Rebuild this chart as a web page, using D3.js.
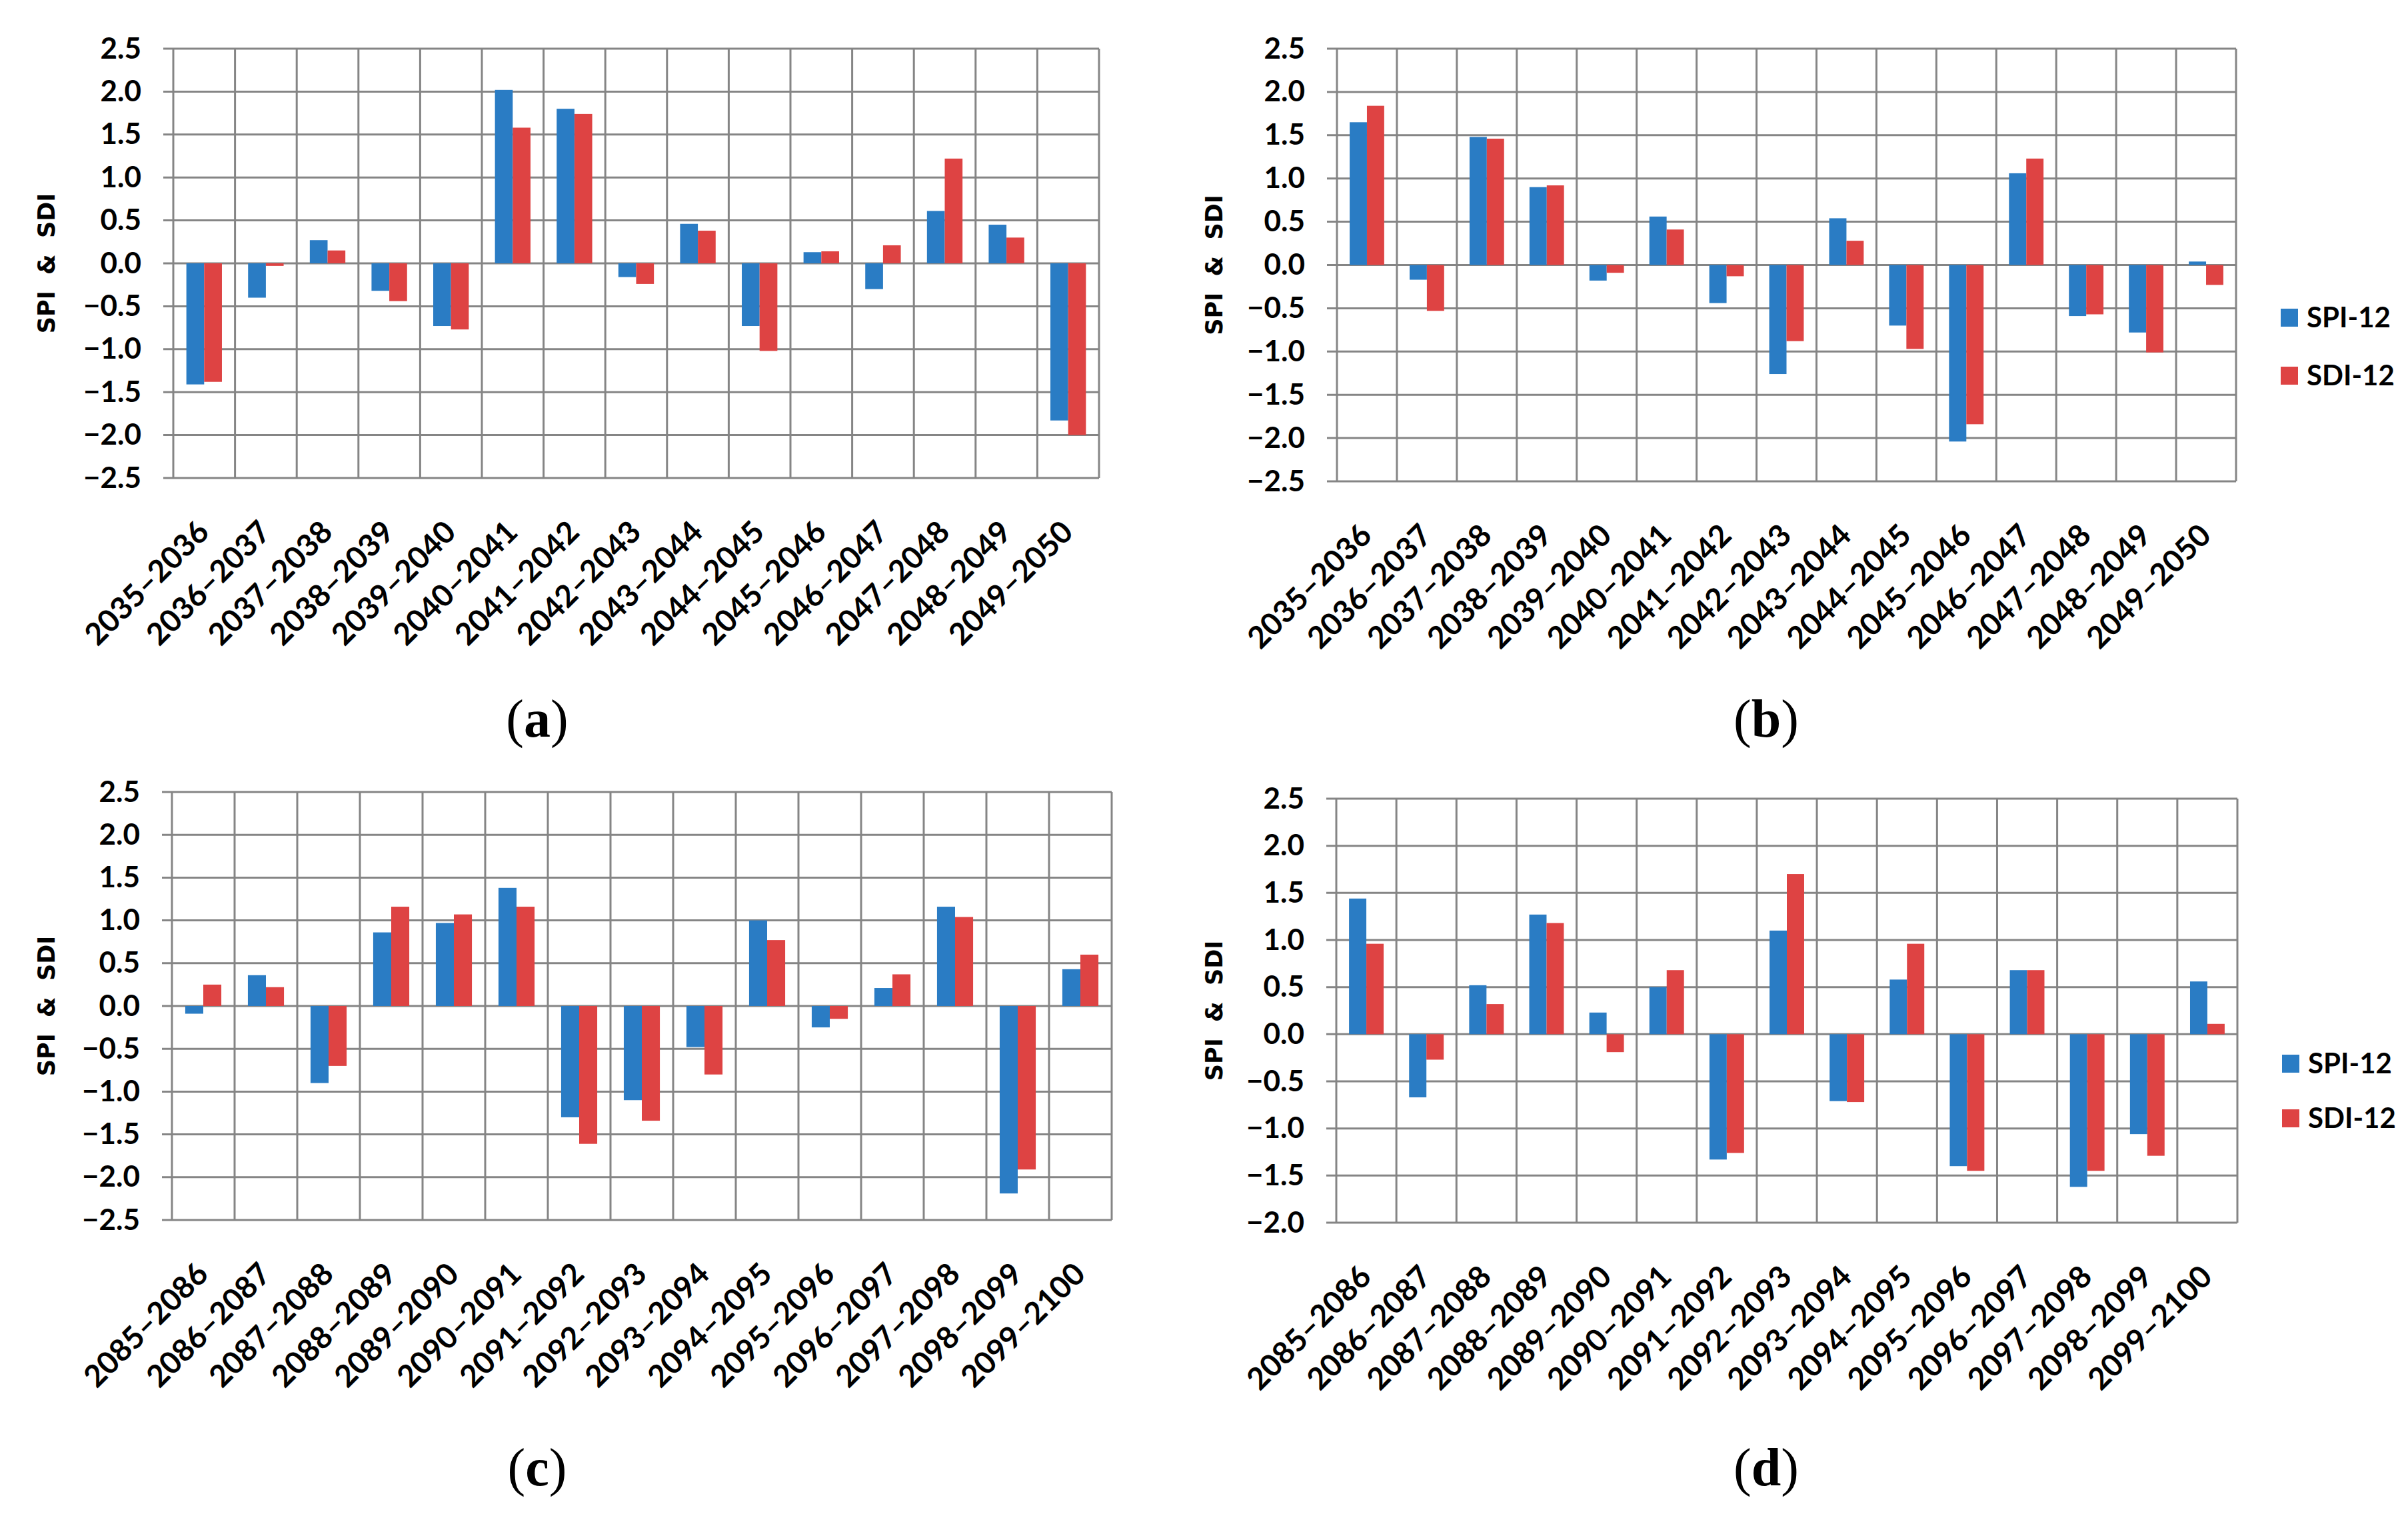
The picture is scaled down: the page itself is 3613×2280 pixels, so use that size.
<!DOCTYPE html>
<html>
<head>
<meta charset="utf-8">
<script src="https://cdn.jsdelivr.net/npm/d3@7"></script>
<style>
  body { margin: 0; background: #fff; }
  svg { display: block; }
</style>
</head>
<body>
<svg id="myGraph" width="3613" height="2280"></svg>
<script>
// categories
var catsTop = ["2035–2036","2036–2037","2037–2038","2038–2039","2039–2040","2040–2041","2041–2042","2042–2043","2043–2044","2044–2045","2045–2046","2046–2047","2047–2048","2048–2049","2049–2050"];
var catsBottom = ["2085–2086","2086–2087","2087–2088","2088–2089","2089–2090","2090–2091","2091–2092","2092–2093","2093–2094","2094–2095","2095–2096","2096–2097","2097–2098","2098–2099","2099–2100"];

// series values
var spiA = [-1.41,-0.40,0.27,-0.32,-0.73,2.02,1.80,-0.16,0.46,-0.73,0.13,-0.30,0.61,0.45,-1.83];
var sdiA = [-1.38,-0.03,0.15,-0.44,-0.77,1.58,1.74,-0.24,0.38,-1.02,0.14,0.21,1.22,0.30,-2.00];
var spiB = [1.65,-0.17,1.48,0.90,-0.18,0.56,-0.44,-1.26,0.54,-0.70,-2.04,1.06,-0.59,-0.78,0.04];
var sdiB = [1.84,-0.53,1.46,0.92,-0.09,0.41,-0.13,-0.88,0.28,-0.97,-1.84,1.23,-0.57,-1.01,-0.23];
var spiC = [-0.09,0.36,-0.90,0.86,0.97,1.38,-1.30,-1.10,-0.48,1.00,-0.25,0.21,1.16,-2.19,0.43];
var sdiC = [0.25,0.22,-0.70,1.16,1.07,1.16,-1.61,-1.34,-0.80,0.77,-0.15,0.37,1.04,-1.91,0.60];
var spiD = [1.44,-0.67,0.52,1.27,0.23,0.50,-1.33,1.10,-0.71,0.58,-1.40,0.68,-1.62,-1.06,0.56];
var sdiD = [0.96,-0.27,0.32,1.18,-0.19,0.68,-1.26,1.70,-0.72,0.96,-1.45,0.68,-1.45,-1.29,0.11];

// tick labels
var ticksFull = [2.5,2.0,1.5,1.0,0.5,0.0,-0.5,-1.0,-1.5,-2.0,-2.5];
var ticksD = [2.5,2.0,1.5,1.0,0.5,0.0,-0.5,-1.0,-1.5,-2.0];

var seriesNames = ["SPI-12","SDI-12"];
var colors = ["#2a7cc4","#de4343"];
var gridColor = "#858585";
var tickFont = "Lato, 'Open Sans', sans-serif";

var svg = d3.select("#myGraph");
svg.append("rect").attr("width",3613).attr("height",2280).attr("fill","#fff");

function drawPanel(opt){
    var g = svg.append("g");
    var x = d3.scaleBand().domain(opt.cats).range([opt.left, opt.right]).padding(0);
    var y = d3.scaleLinear().domain([d3.min(opt.ticks), d3.max(opt.ticks)]).range([opt.bottom, opt.top]);

    // horizontal grid
    g.selectAll("line.h").data(opt.ticks).enter().append("line")
        .attr("x1", opt.left - 15).attr("x2", opt.right)
        .attr("y1", function(d){ return y(d); }).attr("y2", function(d){ return y(d); })
        .attr("stroke", gridColor).attr("stroke-width", 3);

    // vertical grid at category borders
    var borders = opt.cats.map(function(c){ return x(c); }).concat([opt.right]);
    g.selectAll("line.v").data(borders).enter().append("line")
        .attr("x1", function(d){ return d; }).attr("x2", function(d){ return d; })
        .attr("y1", opt.top).attr("y2", opt.bottom)
        .attr("stroke", gridColor).attr("stroke-width", 3);

    // y axis labels
    var yAxis = d3.axisLeft(y).tickValues(opt.ticks).tickSize(15).tickPadding(33)
        .tickFormat(d3.format(".1f"));
    var ya = g.append("g").attr("transform", "translate(" + opt.left + ",0)").call(yAxis);
    ya.select(".domain").remove();
    ya.selectAll("line").remove();
    ya.selectAll("text").attr("font-family", tickFont).attr("font-size", 44)
        .attr("font-weight", "bold").attr("fill", "#000");

    // x axis labels
    var xAxis = d3.axisBottom(x).tickSize(0);
    var xa = g.append("g").attr("transform", "translate(0," + opt.bottom + ")").call(xAxis);
    xa.select(".domain").remove();
    xa.selectAll("text")
        .attr("x", 0).attr("y", 0).attr("dy", 0)
        .attr("transform", "translate(10,84) rotate(-45)")
        .attr("text-anchor", "end")
        .attr("font-family", tickFont).attr("font-size", 46)
        .attr("font-weight", "bold").attr("fill", "#000");

    // bars
    var bw = x.bandwidth() * 0.288;
    [opt.spi, opt.sdi].forEach(function(vals, s){
        g.selectAll("rect.s" + s).data(vals).enter().append("rect")
            .attr("x", function(d, i){ return x(opt.cats[i]) + x.bandwidth()/2 - bw + s*bw; })
            .attr("y", function(d){ return Math.min(y(d), y(0)); })
            .attr("width", bw)
            .attr("height", function(d){ return Math.abs(y(d) - y(0)); })
            .attr("fill", colors[s]);
    });

    // y title
    var cy = (opt.top + opt.bottom) / 2;
    g.append("text")
        .attr("transform", "translate(" + opt.titleX + "," + cy + ") rotate(-90)")
        .attr("text-anchor", "middle")
        .attr("font-family", "'DejaVu Sans', Verdana, sans-serif")
        .attr("font-weight", "bold").attr("font-size", 35)
        .attr("xml:space", "preserve")
        .style("white-space", "pre")
        .text("SPI  &  SDI");

    // legend
    if (opt.legend) {
        seriesNames.forEach(function(n, s){
            var ly = opt.legendY[s];
            g.append("rect").attr("x", opt.legendX).attr("y", ly)
                .attr("width", 26).attr("height", 27).attr("fill", colors[s]);
            g.append("text").attr("x", opt.legendX + 39).attr("y", ly + 28)
                .attr("font-family", tickFont).attr("font-size", 42)
                .attr("font-weight", "bold").text(n);
        });
    }

    // panel letter
    var lab = g.append("text").attr("x", opt.labelX).attr("y", opt.labelY)
        .attr("text-anchor", "middle")
        .attr("font-family", "'Liberation Serif', 'Times New Roman', serif")
        .attr("font-size", 80);
    lab.append("tspan").text("(");
    lab.append("tspan").attr("font-weight", "bold").text(opt.letter);
    lab.append("tspan").text(")");
}

drawPanel({cats: catsTop, spi: spiA, sdi: sdiA, ticks: ticksFull,
    left: 260, right: 1649, top: 73, bottom: 717,
    titleX: 82, labelX: 806, labelY: 1105, letter: "a"});
drawPanel({cats: catsTop, spi: spiB, sdi: sdiB, ticks: ticksFull,
    left: 2006, right: 3355, top: 73, bottom: 722,
    titleX: 1834, labelX: 2650, labelY: 1105, letter: "b",
    legend: true, legendX: 3422, legendY: [463, 550]});
drawPanel({cats: catsBottom, spi: spiC, sdi: sdiC, ticks: ticksFull,
    left: 258, right: 1668, top: 1188, bottom: 1830,
    titleX: 82, labelX: 806, labelY: 2228, letter: "c"});
drawPanel({cats: catsBottom, spi: spiD, sdi: sdiD, ticks: ticksD,
    left: 2005, right: 3357, top: 1198, bottom: 1834,
    titleX: 1834, labelX: 2650, labelY: 2228, letter: "d",
    legend: true, legendX: 3424, legendY: [1582, 1664]});
</script>
</body>
</html>
